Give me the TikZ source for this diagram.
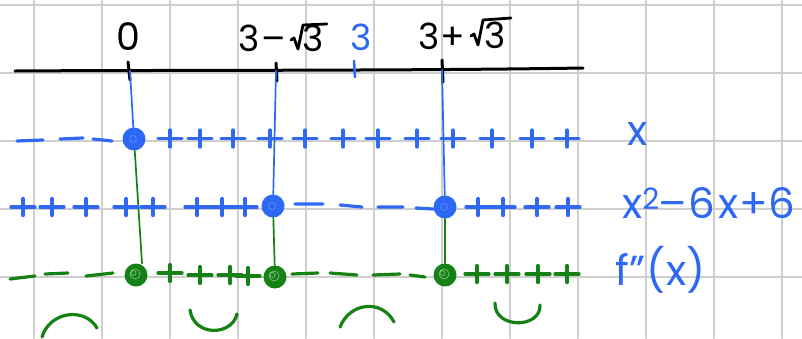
\documentclass[tikz,border=0pt]{standalone}
\usepackage{fontspec}
\setmainfont{Poppins}
\usetikzlibrary{calc}
\definecolor{sblue}{RGB}{45,105,245}
\definecolor{sgreen}{RGB}{22,130,22}
\definecolor{gridgray}{RGB}{206,206,206}
\begin{document}
\begin{tikzpicture}[x=1pt,y=-1pt,line cap=round,line join=round,
  gridline/.style={gridgray,line width=2pt},
  stroke/.style={line width=3.2pt},
  psign/.pic={\draw[stroke] (-12,0)--(12,0) (0,-8.5)--(0,8.5);},
  dot/.style={circle,fill,inner sep=0pt,minimum size=23pt},
  conn/.style={line width=1.7pt},
  axisline/.style={black,line width=3pt},
  radical/.style={black,line width=2.8pt},
  lbl/.style={inner sep=0pt,font=\fontsize{36}{38}\selectfont},
  rlbl/.style={inner sep=0pt,sblue,font=\fontsize{42}{44}\selectfont}
]
\useasboundingbox (0,0) rectangle (802,338);
\fill[white] (0,0) rectangle (802,338);
% grid
\foreach \i in {0,...,11} \draw[gridline] (33.5+68*\i,0) -- (33.5+68*\i,338);
\foreach \j in {0,...,4} \draw[gridline] (0,4.5+68.2*\j) -- (802,4.5+68.2*\j);
% axis
\draw[axisline] (15,71) .. controls (150,70) and (400,71) .. (583,68);
\coordinate (t0) at (130,71);
\coordinate (t1) at (276,71);
\coordinate (t3) at (355,70);
\coordinate (t2) at (442,70);
\draw[axisline] (128,62) -- (130,80);
\draw[axisline] (276,63) -- (277,81);
\draw[sblue,line width=2.6pt] (354,61) -- (355,77);
\draw[axisline] (442,60) -- (443,82);
% labels on top
\node[lbl,font=\fontsize{38}{40}\selectfont] (l0) at (128,37) {0};
\node[lbl,anchor=east] (l1a) at (286,38) {3\hspace{2pt}–};
\node[lbl] (l1b) at (313,38) {3};
\draw[radical] ($(l1b)+(-22,2)$) -- ++(3,-2) -- ++(4,11) -- ++(5,-24) -- ++(24,-1);
\node[lbl,sblue] (l3) at (361,37) {3};
\node[lbl,anchor=east] (l2a) at (465,36) {3\hspace{1pt}+};
\node[lbl] (l2b) at (495,35) {3};
\draw[radical] ($(l2b)+(-24,1)$) -- ++(3,-2) -- ++(4,11) -- ++(5,-25) -- ++(28,-2);
% dots
\node[dot,sblue] (d01) at (134,139) {};
\node[dot,sblue] (d12) at (273,206) {};
\node[dot,sblue] (d22) at (445,207) {};
\node[dot,sgreen] (d03) at (136,275) {};
\node[dot,sgreen] (d13) at (275,277) {};
\node[dot,sgreen] (d23) at (445,275) {};
\foreach \d in {d01,d12,d22} \draw[white!25!sblue,line width=0.6pt] ([xshift=-1pt]\d) circle (3.5);
\foreach \d in {d03,d13,d23} \draw[white!45!sgreen,line width=0.7pt] ([xshift=-1pt,yshift=1pt]\d) circle (5) ([xshift=-2.5pt,yshift=2pt]\d) circle (2.5);
% vertical connectors
\draw[conn,sblue] (t0) -- (d01);
\draw[conn,sblue] (t1) -- (d12);
\draw[conn,sblue] (t2) -- (d22);
\draw[conn,sgreen] (d01) -- ([xshift=6pt]d03.north);
\draw[conn,sgreen] (d12) -- (d13);
\draw[conn,sgreen] (d22) -- (d23);
% row 1: x
\begin{scope}[sblue]
\draw[stroke] (17,141) -- (43,140) (60,139) -- (83,138) (93,139) -- (112,141);
\foreach \px in {170,200,233,270,305,343,378,417,453,492,532,567} \pic at (\px,138.5) {psign};
\end{scope}
% row 2: x^2-6x+6
\begin{scope}[sblue]
\foreach \px in {23,52,86,126,153,197,222,245} \pic at (\px,207) {psign};
\draw[stroke] (295,204) -- (323,204) (340,205) -- (362,207) (378,207) -- (403,207) (416,208) -- (433,209);
\foreach \px in {478,503,537,568} \pic at (\px,207) {psign};
\end{scope}
% row 3: f''(x)
\begin{scope}[sgreen]
\draw[stroke] (10,279) -- (35,276) (45,274) -- (68,273) (86,276) -- (113,273);
\foreach \px/\py in {170/273,200/275,230/275,248/276} \pic at (\px,\py) {psign};
\draw[stroke] (292,274) -- (318,273) (330,273) -- (357,275) (373,275) -- (400,274) (410,275) -- (425,277);
\foreach \px in {477,507,538,567} \pic at (\px,274) {psign};
% concavity arcs
\draw[stroke] (42,337) .. controls (50,311) and (85,307) .. (97,328);
\draw[stroke] (190,310) .. controls (194,337) and (232,336) .. (237,314);
\draw[stroke] (340,327) .. controls (350,302) and (382,299) .. (394,322);
\draw[stroke] (495,303) .. controls (494,329) and (541,329) .. (540,305);
\end{scope}
% row labels
\node[rlbl] (rx) at (638,134) {x};
\node[rlbl,anchor=west] (rq) at (622,203) {x\textsuperscript{2}\hspace{-1pt}–\hspace{1pt}6\hspace{4pt}x\hspace{1pt}+\hspace{0pt}6};
\node[rlbl,anchor=west] (rf) at (615,270) {f\char"22\hspace{2pt}(x)};
\end{tikzpicture}
\end{document}
